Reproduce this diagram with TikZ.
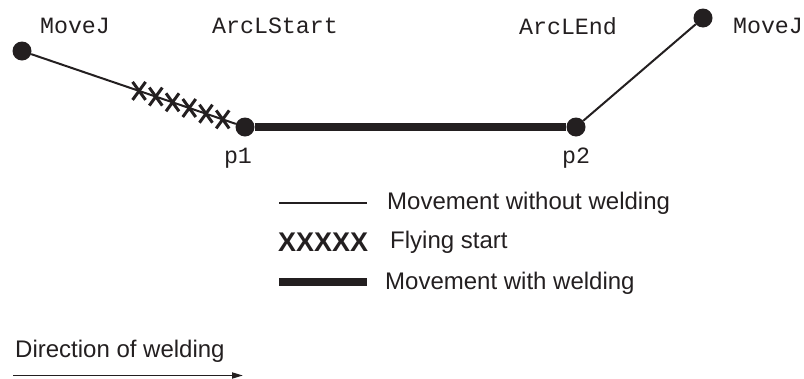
\documentclass[tikz,border=0pt]{standalone}
\usepackage{fontspec}
\setmainfont{Liberation Sans}
\setmonofont{Liberation Mono}
\usetikzlibrary{arrows.meta,calc}
\definecolor{ink}{HTML}{231F20}

\tikzset{
  joint/.style={circle, fill=ink, inner sep=0pt, minimum size=19pt},
  cmd/.style={font=\fontsize{23.3}{26}\ttfamily, text=ink, inner sep=0pt},
  legtext/.style={font=\fontsize{24}{28}\selectfont, text=ink, anchor=west, inner sep=0pt},
  freemove/.style={draw=ink, line width=2pt},
  weldmove/.style={draw=ink, line width=7.5pt},
}

\begin{document}
\begin{tikzpicture}[x=1pt, y=-1pt]
  \useasboundingbox (0,0) rectangle (804,378);

  % path points
  \node[joint] (start) at (22,51) {};
  \node[joint] (p1) at (245,127) {};
  \node[joint] (p2) at (576,127) {};
  \node[joint] (stop) at (703,18) {};

  \draw[freemove] (start) -- (p1);
  \draw[weldmove] (p1) -- (p2);
  \draw[freemove] (p2) -- (stop);

  % flying start crosses
  \foreach \t in {0.525,0.6,0.675,0.75,0.825,0.9}
    \draw[ink, line width=3pt] ($(start)!\t!(p1)$) ++(-6.5,-9) -- ++(13,18)
      ($(start)!\t!(p1)$) ++(6.5,-9) -- ++(-13,18);

  % instruction labels
  \node[cmd] (mvl) at (75,26) {MoveJ};
  \node[cmd] (arcs) at (275,26) {ArcLStart};
  \node[cmd] (arce) at (568,26) {ArcLEnd};
  \node[cmd] (mvr) at (768,26) {MoveJ};
  \node[cmd] (lp1) at (238,158) {p1};
  \node[cmd] (lp2) at (576,158) {p2};

  % legend
  \coordinate (la) at (279,203);
  \coordinate (lb) at (367,203);
  \draw[freemove] (la) -- (lb);
  \node[legtext] (tfree) at (387,203) {Movement without welding};
  \node[font=\fontsize{27}{30}\bfseries, text=ink, anchor=west, inner sep=0pt]
    (xx) at (278,242) {XXXXX};
  \node[legtext] (tfly) at (390,242) {Flying start};
  \coordinate (lc) at (279,282);
  \coordinate (ld) at (367,282);
  \draw[weldmove] (lc) -- (ld);
  \node[legtext] (tweld) at (385,283) {Movement with welding};

  % direction
  \node[legtext] (tdir) at (15,351) {Direction of welding};
  \coordinate (da) at (13,375.5);
  \coordinate (db) at (243,375.5);
  \draw[ink, line width=1.8pt, -{Triangle[length=11pt, width=6pt]}] (da) -- (db);
\end{tikzpicture}
\end{document}
